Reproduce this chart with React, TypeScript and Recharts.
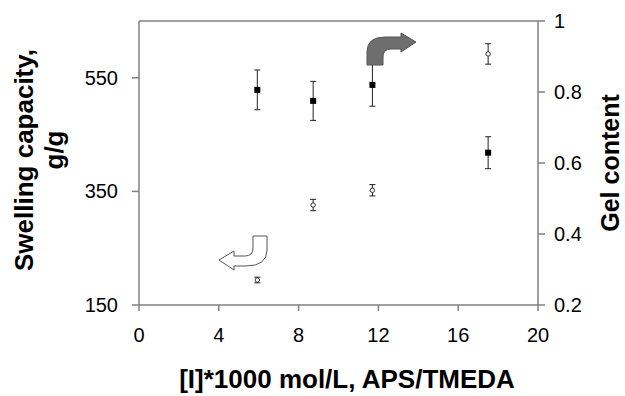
import React from "react"
import { ScatterChart, Scatter, XAxis, YAxis, ErrorBar, ReferenceLine } from "recharts"

// [I]*1000 mol/L
const concentration = [5.93, 8.73, 11.7, 17.5]
// swelling capacity, g/g (left axis, open circles)
const swelling = [194, 326, 352, 592]
const swellingErr = [5, 10, 10, 18]
// gel content (right axis, filled squares)
const gelContent = [0.806, 0.775, 0.82, 0.629]
const gelErr = [0.056, 0.055, 0.06, 0.045]

const xTicks = [0, 4, 8, 12, 16, 20]
const leftTicks = [150, 350, 550]
const rightTicks = [0.2, 0.4, 0.6, 0.8, 1]

const FONT = "'Liberation Sans', Arial, Helvetica, sans-serif"
const AXIS = "#808080"

const swellingData = concentration.map((x, i) => ({ x, y: swelling[i], err: swellingErr[i] }))
const gelData = concentration.map((x, i) => ({ x, y: gelContent[i], err: gelErr[i] }))

const OpenCircle = (props: any) => {
    const { cx, cy } = props
    return <circle cx={cx} cy={cy} r={2.2} fill="#fff" stroke="#333" strokeWidth={1} />
}

const FilledSquare = (props: any) => {
    const { cx, cy } = props
    return <rect x={cx - 3} y={cy - 3} width={6} height={6} fill="#000" />
}

const fmt = (v: number) => String(Number(v.toFixed(1)))

const XTick = (props: any) => {
    const { x, y, payload } = props
    return (
        <text x={x} y={y + 14} textAnchor="middle" fontSize={20} fontFamily={FONT} fill="#000">
            {fmt(payload.value)}
        </text>
    )
}

const LeftTick = (props: any) => {
    const { x, y, payload } = props
    return (
        <text x={x} y={y + 7} textAnchor="end" fontSize={20} fontFamily={FONT} fill="#000">
            {fmt(payload.value)}
        </text>
    )
}

const RightTick = (props: any) => {
    const { x, y, payload } = props
    return (
        <text x={x} y={y + 7} textAnchor="start" fontSize={20} fontFamily={FONT} fill="#000">
            {fmt(payload.value)}
        </text>
    )
}

export default function App() {
    return (
        <div style={{ position: "absolute", left: 0, top: 0, width: 625, height: 396, background: "#fff", fontFamily: FONT }}>
            <ScatterChart width={625} height={396} margin={{ top: 21, right: 0, bottom: 0, left: 0 }}>
                <XAxis
                    type="number"
                    dataKey="x"
                    domain={[0, 20]}
                    ticks={xTicks}
                    height={91}
                    stroke={AXIS}
                    strokeWidth={1.5}
                    tickSize={6}
                    tickMargin={17}
                    tick={XTick}
                    allowDataOverflow
                />
                <YAxis
                    yAxisId="left"
                    type="number"
                    dataKey="y"
                    domain={[150, 650]}
                    ticks={leftTicks}
                    width={139}
                    stroke={AXIS}
                    strokeWidth={1.5}
                    tickSize={7}
                    tickMargin={14}
                    tick={LeftTick}
                    allowDataOverflow
                />
                <YAxis
                    yAxisId="right"
                    orientation="right"
                    type="number"
                    dataKey="y"
                    domain={[0.2, 1]}
                    ticks={rightTicks}
                    width={87}
                    stroke={AXIS}
                    strokeWidth={1.5}
                    tickSize={7}
                    tickMargin={9}
                    tick={RightTick}
                    allowDataOverflow
                />
                <ReferenceLine yAxisId="right" y={1} stroke={AXIS} strokeWidth={1.5} />
                <Scatter yAxisId="left" data={swellingData} shape={OpenCircle} isAnimationActive={false}>
                    <ErrorBar dataKey="err" direction="y" width={3} stroke="#222" strokeWidth={1} />
                </Scatter>
                <Scatter yAxisId="right" data={gelData} shape={FilledSquare} isAnimationActive={false}>
                    <ErrorBar dataKey="err" direction="y" width={3} stroke="#222" strokeWidth={1} />
                </Scatter>
            </ScatterChart>
            <svg
                width={625}
                height={396}
                style={{ position: "absolute", left: 0, top: 0, pointerEvents: "none" }}
            >
                {/* arrow to right axis */}
                <path
                    d="M 367,65 L 367,52 Q 367,37 385,37 L 401,37 L 401,33 L 416,42 L 401,52 L 401,49 L 391,49 Q 383,49 383,57 L 383,65 Z"
                    fill="#6e6e6e"
                    stroke="#555"
                    strokeWidth={1}
                />
                {/* arrow to left axis */}
                <path
                    d="M 253,236 L 267,236 L 267,250 Q 267,266 246,266 L 234,266 L 234,270 L 219,260 L 234,251 L 234,256 L 245,256 Q 253,256 253,248 Z"
                    fill="#fff"
                    stroke="#555"
                    strokeWidth={1}
                />
                <g fontFamily={FONT} fontWeight="bold" fontSize={26} fill="#000">
                    <text x={347} y={388} textAnchor="middle">[I]*1000 mol/L, APS/TMEDA</text>
                    <text transform="translate(33,160) rotate(-90)" textAnchor="middle">Swelling capacity,</text>
                    <text transform="translate(63,150) rotate(-90)" textAnchor="middle">g/g</text>
                    <text transform="translate(619,163) rotate(-90)" textAnchor="middle" fontSize={25}>Gel content</text>
                </g>
            </svg>
        </div>
    )
}
